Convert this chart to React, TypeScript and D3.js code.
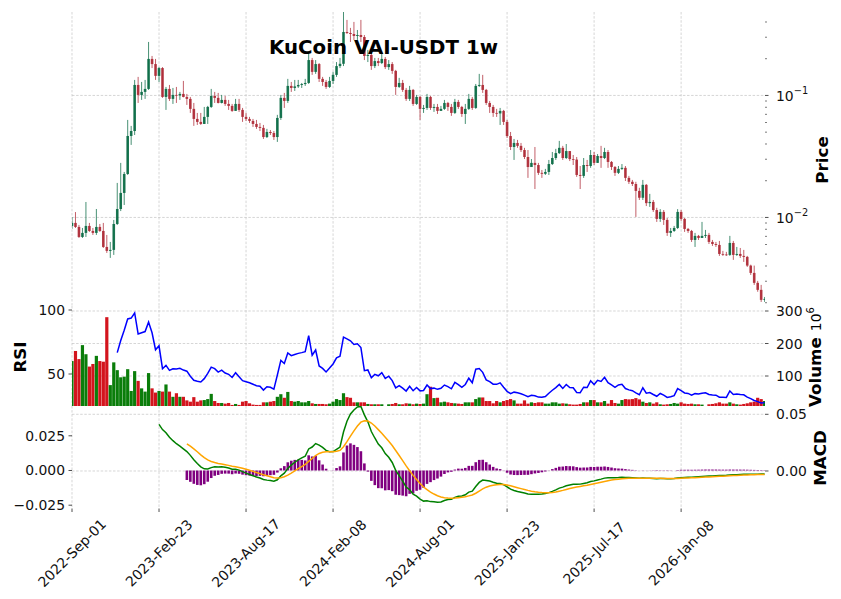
import React from 'react';
import * as d3 from 'd3';

const title = 'KuCoin VAI-USDT 1w';
const dateLabels = ['2022-Sep-01', '2023-Feb-23', '2023-Aug-17', '2024-Feb-08', '2024-Aug-01', '2025-Jan-23', '2025-Jul-17', '2026-Jan-08'];
const labelEvery = 25;

// weekly candles, open of each week = previous close
const firstOpen = 0.00852;
const closes = [
  0.00902, 0.00836, 0.00692, 0.00747, 0.00852, 0.00775, 0.00747, 0.00836, 0.00775, 0.00573,
  0.00532, 0.00542, 0.00884, 0.01173, 0.01588, 0.02271, 0.04653, 0.05111, 0.1219, 0.1010,
  0.1069, 0.1131, 0.1992, 0.1808, 0.1447, 0.1677, 0.0972, 0.1131, 0.0937, 0.1010,
  0.1000, 0.1029, 0.0972, 0.0937, 0.0776, 0.0642, 0.0607, 0.0584, 0.0667, 0.0805,
  0.0991, 0.0955, 0.0868, 0.0919, 0.0852, 0.0821, 0.0747, 0.0852, 0.0761, 0.0667,
  0.0642, 0.0618, 0.0584, 0.0552, 0.0542, 0.0456, 0.0502, 0.0492, 0.0456, 0.0654,
  0.0955, 0.0902, 0.1197, 0.1152, 0.1186, 0.1219, 0.1240, 0.1266, 0.1950, 0.1560,
  0.1808, 0.1367, 0.1290, 0.1174, 0.1315, 0.1474, 0.1741, 0.1817, 0.3313, 0.3251,
  0.3189, 0.3072, 0.3130, 0.3013, 0.2107, 0.2148, 0.1741, 0.1913, 0.1843, 0.1992,
  0.1708, 0.1808, 0.1589, 0.1174, 0.1266, 0.1110, 0.0937, 0.1110, 0.0852, 0.0972,
  0.0776, 0.0790, 0.0972, 0.0790, 0.0805, 0.0747, 0.0776, 0.0868, 0.0805, 0.0719,
  0.0885, 0.0805, 0.0705, 0.0776, 0.0937, 0.0790, 0.1197, 0.1219, 0.1110, 0.0868,
  0.0805, 0.0719, 0.0712, 0.0747, 0.0607, 0.0465, 0.0378, 0.0408, 0.0386, 0.0357,
  0.0313, 0.0259, 0.0280, 0.0269, 0.0232, 0.0228, 0.0236, 0.0274, 0.0307, 0.0337,
  0.0372, 0.0307, 0.0350, 0.0301, 0.0298, 0.0223, 0.0219, 0.0269, 0.0264, 0.0325,
  0.0280, 0.0319, 0.0307, 0.0344, 0.0285, 0.0259, 0.0232, 0.0250, 0.0255, 0.0211,
  0.0196, 0.0188, 0.0165, 0.0145, 0.0185, 0.0131, 0.0134, 0.0115, 0.00973, 0.0111,
  0.00954, 0.00747, 0.00775, 0.00820, 0.0111, 0.00973, 0.00805, 0.00775, 0.00654, 0.00706,
  0.00679, 0.00706, 0.00719, 0.00630, 0.00606, 0.00595, 0.00502, 0.00497, 0.00493, 0.00618,
  0.00493, 0.00502, 0.00484, 0.00475, 0.00403, 0.00351, 0.00291, 0.00255, 0.00211, 0.00215,
];
const highs = [
  0.01007, 0.01107, 0.00868, 0.00820, 0.01339, 0.00902, 0.00820, 0.01173, 0.00884, 0.00902,
  0.00719, 0.00630, 0.00954, 0.01918, 0.0280, 0.0236, 0.0630, 0.05626, 0.1340, 0.1419,
  0.1290, 0.1340, 0.2745, 0.2107, 0.1992, 0.1708, 0.1708, 0.1174, 0.1219, 0.1152,
  0.1174, 0.1069, 0.1315, 0.1029, 0.0972, 0.0868, 0.0719, 0.0719, 0.0805, 0.0821,
  0.1131, 0.1069, 0.1049, 0.1010, 0.0991, 0.0919, 0.0852, 0.0937, 0.0937, 0.0790,
  0.0719, 0.0667, 0.0642, 0.0630, 0.0595, 0.0573, 0.0532, 0.0521, 0.0511, 0.0693,
  0.1010, 0.1049, 0.1367, 0.1290, 0.1340, 0.1340, 0.1266, 0.1367, 0.2273, 0.2030,
  0.1950, 0.1843, 0.1419, 0.1340, 0.1419, 0.1560, 0.1878, 0.2030, 0.4925, 0.4160,
  0.3578, 0.4006, 0.3440, 0.4160, 0.3130, 0.2360, 0.2273, 0.2030, 0.2030, 0.2273,
  0.2067, 0.1950, 0.1878, 0.1620, 0.1393, 0.1340, 0.1152, 0.1197, 0.1130, 0.1010,
  0.0991, 0.0836, 0.1029, 0.0991, 0.0852, 0.0852, 0.0821, 0.0919, 0.0885, 0.0852,
  0.0937, 0.0919, 0.0821, 0.0852, 0.1029, 0.0972, 0.1242, 0.1502, 0.1474, 0.1131,
  0.0902, 0.0836, 0.0776, 0.0790, 0.0761, 0.0630, 0.0502, 0.0440, 0.0432, 0.0408,
  0.0372, 0.0357, 0.0301, 0.0378, 0.0280, 0.0245, 0.0250, 0.0296, 0.0344, 0.0365,
  0.0424, 0.0386, 0.0400, 0.0350, 0.0325, 0.0313, 0.0264, 0.0307, 0.0296, 0.0357,
  0.0344, 0.0331, 0.0386, 0.0372, 0.0357, 0.0290, 0.0264, 0.0264, 0.0274, 0.0264,
  0.0219, 0.0203, 0.0196, 0.0175, 0.0203, 0.0188, 0.0156, 0.0139, 0.0120, 0.0117,
  0.0115, 0.00990, 0.00820, 0.00852, 0.0117, 0.0115, 0.00990, 0.00820, 0.00790, 0.00747,
  0.00719, 0.00919, 0.00790, 0.00747, 0.00654, 0.00630, 0.00642, 0.00532, 0.00522, 0.00706,
  0.00642, 0.00573, 0.00562, 0.00542, 0.00484, 0.00410, 0.00403, 0.00302, 0.00280, 0.00223,
];
const lows = [
  0.00805, 0.0082, 0.00679, 0.00679, 0.00692, 0.00761, 0.00719, 0.00719, 0.00761, 0.00562,
  0.00512, 0.00466, 0.00493, 0.00868, 0.01128, 0.01265, 0.0223, 0.03931, 0.0474, 0.0868,
  0.0919, 0.0937, 0.111, 0.1677, 0.134, 0.129, 0.0955, 0.0761, 0.0902, 0.0852,
  0.0868, 0.0919, 0.0964, 0.0836, 0.0719, 0.0563, 0.0573, 0.0573, 0.0584, 0.0584,
  0.079, 0.0868, 0.086, 0.086, 0.0821, 0.0761, 0.0733, 0.0747, 0.0733, 0.0607,
  0.0618, 0.0595, 0.0552, 0.0532, 0.0511, 0.044, 0.0448, 0.0474, 0.0432, 0.0416,
  0.063, 0.079, 0.0868, 0.1069, 0.1089, 0.1152, 0.1152, 0.1197, 0.1242, 0.1474,
  0.1502, 0.129, 0.1197, 0.1131, 0.1152, 0.1242, 0.1419, 0.1677, 0.1741, 0.3189,
  0.2745, 0.285, 0.285, 0.2745, 0.195, 0.1878, 0.162, 0.1677, 0.1741, 0.1808,
  0.1646, 0.162, 0.1502, 0.101, 0.1152, 0.1069, 0.0902, 0.0902, 0.0821, 0.0836,
  0.063, 0.0719, 0.0761, 0.0761, 0.0733, 0.0705, 0.0747, 0.0761, 0.0747, 0.068,
  0.0705, 0.0776, 0.0667, 0.0584, 0.0761, 0.0761, 0.0776, 0.1174, 0.1049, 0.0836,
  0.0719, 0.0667, 0.0667, 0.0573, 0.0573, 0.0448, 0.0357, 0.0296, 0.0372, 0.0344,
  0.0301, 0.0211, 0.0264, 0.0171, 0.0223, 0.0211, 0.0223, 0.0223, 0.0269, 0.0296,
  0.0331, 0.0296, 0.0301, 0.029, 0.0269, 0.0215, 0.0171, 0.0211, 0.0236, 0.0255,
  0.0269, 0.028, 0.0255, 0.0301, 0.0255, 0.0245, 0.0219, 0.0227, 0.0245, 0.0199,
  0.0188, 0.0181, 0.0101, 0.0139, 0.0139, 0.0124, 0.0122, 0.0111, 0.00919, 0.00919,
  0.00868, 0.00706, 0.00692, 0.00761, 0.00805, 0.00936, 0.00761, 0.00747, 0.0063, 0.00573,
  0.00654, 0.00679, 0.00679, 0.00606, 0.00584, 0.00573, 0.00484, 0.00484, 0.00484, 0.00484,
  0.00449, 0.00484, 0.00466, 0.00432, 0.00393, 0.00338, 0.0028, 0.00246, 0.00203, 0.00203,
];
// volume in millions
const volumes = [
  146, 177, 152, 195, 167, 129, 137, 162, 146, 144,
  281, 72, 142, 118, 96, 98, 121, 54, 115, 85,
  62, 52, 109, 62, 49, 54, 52, 74, 52, 36,
  47, 36, 36, 25, 21, 35, 21, 25, 26, 29,
  45, 23, 17, 17, 15, 17, 11, 14, 11, 21,
  23, 16, 12, 11, 11, 19, 19, 21, 23, 36,
  44, 33, 51, 23, 21, 23, 19, 19, 23, 16,
  14, 14, 14, 13, 15, 21, 29, 26, 47, 35,
  33, 19, 19, 19, 19, 14, 13, 13, 13, 13,
  0, 13, 14, 17, 13, 13, 16, 15, 13, 15,
  14, 15, 44, 67, 32, 33, 19, 21, 19, 17,
  16, 15, 14, 19, 19, 19, 29, 34, 34, 23,
  23, 16, 23, 19, 23, 26, 29, 25, 15, 15,
  25, 15, 19, 17, 19, 19, 15, 15, 19, 19,
  15, 16, 15, 13, 12, 12, 14, 19, 19, 26,
  26, 19, 19, 23, 15, 26, 17, 15, 26, 29,
  28, 29, 32, 28, 21, 17, 19, 15, 19, 13,
  12, 13, 14, 17, 15, 19, 15, 14, 15, 13,
  13, 12, 0, 13, 14, 16, 19, 15, 15, 19,
  15, 13, 12, 14, 16, 19, 21, 33, 29, 23,
];

const rsiPeriod = 14;
const macdFast = 12;
const macdSlow = 26;
const macdSignal = 9;

// Wilder RSI: ewm(alpha=1/period, adjust=False) of gains / losses, first diff taken as 0
function wilderRsi(values: number[], period: number) {
  const a = 1 / period;
  let up = 0;
  let down = 0;
  return values.map((v, i) => {
    const d = i === 0 ? 0 : v - values[i - 1];
    const g = d > 0 ? d : 0;
    const l = d < 0 ? -d : 0;
    if (i === 0) {
      up = g;
      down = l;
    } else {
      up = a * g + (1 - a) * up;
      down = a * l + (1 - a) * down;
    }
    if (i < period - 1) return NaN;
    return 100 - 100 / (1 + up / down);
  });
}

// ewm(span, adjust=False) over the whole series
function ewm(values: number[], span: number) {
  const a = 2 / (span + 1);
  let m = values[0];
  return values.map((v, i) => {
    m = i === 0 ? v : a * v + (1 - a) * m;
    return m;
  });
}

const FONT = 'DejaVu Sans, Verdana, sans-serif';
const UP = '#0b6b45';
const DOWN = '#ae2a36';
const GRID = '#c4c4c4';

const left = 72;
const right = 765;
const priceTop = 12;
const priceBottom = 306;
const volBottom = 406;
const macdBottom = 508.5;

const App: React.FC = () => {
  const n = closes.length;
  const opens = closes.map((c, i) => (i === 0 ? firstOpen : closes[i - 1]));
  const rsi = wilderRsi(closes, rsiPeriod);
  const fast = ewm(closes, macdFast);
  const slow = ewm(closes, macdSlow);
  const macdAll = closes.map((_, i) => fast[i] - slow[i]);
  const signalAll = ewm(macdAll, macdSignal);
  const macdStart = macdSlow - 1;
  const signalStart = macdStart + macdSignal - 1;
  const macd = macdAll.map((v, i) => (i >= macdStart ? v : NaN));
  const signal = signalAll.map((v, i) => (i >= signalStart ? v : NaN));
  const hist = macd.map((m, i) => m - signal[i]);

  const x = d3.scaleLinear().domain([0, n - 0.9]).range([left, right]);
  const yPrice = d3.scaleLog().domain([0.00188, 0.483]).range([priceBottom, priceTop]);
  const yVol = d3.scaleLinear().domain([7.7, 315.4]).range([volBottom, priceBottom]);
  const yRsi = d3.scaleLinear().domain([25, 103.125]).range([volBottom, priceBottom]);
  // histogram on the left axis, macd / signal lines on the right axis
  const yHist = d3.scaleLinear().domain([-0.02738, 0.04647]).range([macdBottom, volBottom]);
  const yLines = d3.scaleLinear().domain([-0.03307, 0.05732]).range([macdBottom, volBottom]);

  const idx = d3.range(n);
  const rsiLine = d3.line<number>().defined((i) => !Number.isNaN(rsi[i])).x((i) => x(i)).y((i) => yRsi(rsi[i]));
  const macdLine = d3.line<number>().defined((i) => !Number.isNaN(macd[i])).x((i) => x(i)).y((i) => yLines(macd[i]));
  const signalLine = d3.line<number>().defined((i) => !Number.isNaN(signal[i])).x((i) => x(i)).y((i) => yLines(signal[i]));

  const labelIdx = dateLabels.map((_, k) => k * labelEvery);
  const minorTicks: number[] = [];
  for (let e = -3; e <= -1; e++) {
    for (let m = 2; m <= 9; m++) {
      const v = m * Math.pow(10, e);
      const [lo, hi] = yPrice.domain();
      if (v >= lo && v <= hi) minorTicks.push(v);
    }
  }
  const majorTicks = [0.01, 0.1];

  const gridV = (top: number, bottom: number) =>
    labelIdx.map((i) => (
      <line key={`gv${top}-${i}`} x1={x(i)} x2={x(i)} y1={top} y2={bottom} stroke={GRID} strokeWidth={0.7} strokeDasharray="2.5 1.6" />
    ));
  const gridH = (y: number, key: string) => (
    <line key={key} x1={left} x2={right} y1={y} y2={y} stroke={GRID} strokeWidth={0.7} strokeDasharray="2.5 1.6" />
  );

  const bodyW = 2.6;
  const volW = 3.2;

  return (
    <div style={{ position: 'absolute', left: 0, top: 0 }}>
      <svg width={841} height={599} style={{ display: 'block', background: '#fff' }} fontFamily={FONT}>
        <defs>
          <clipPath id="cp-price"><rect x={left} y={priceTop} width={right - left} height={priceBottom - priceTop} /></clipPath>
          <clipPath id="cp-vol"><rect x={left} y={priceBottom} width={right - left} height={volBottom - priceBottom} /></clipPath>
          <clipPath id="cp-macd"><rect x={left} y={volBottom} width={right - left} height={macdBottom - volBottom} /></clipPath>
        </defs>

        {/* grids */}
        {gridV(priceTop, priceBottom)}
        {majorTicks.map((v) => gridH(yPrice(v), `gp${v}`))}
        {gridV(priceBottom, volBottom)}
        {[100, 200, 300].map((v) => gridH(yVol(v), `gvol${v}`))}
        {gridV(volBottom, macdBottom)}
        {[0, 0.05].map((v) => gridH(yLines(v), `gm${v}`))}

        {/* candles */}
        <g clipPath="url(#cp-price)">
          {idx.map((i) => {
            const up = closes[i] >= opens[i];
            const col = up ? UP : DOWN;
            const yTop = yPrice(Math.max(opens[i], closes[i]));
            const yBot = yPrice(Math.min(opens[i], closes[i]));
            return (
              <g key={`c${i}`}>
                <line x1={x(i)} x2={x(i)} y1={yPrice(highs[i])} y2={yPrice(lows[i])} stroke={col} strokeOpacity={0.75} strokeWidth={1} />
                <rect x={x(i) - bodyW / 2} y={yTop} width={bodyW} height={Math.max(0.8, yBot - yTop)} fill={col} fillOpacity={0.92} />
              </g>
            );
          })}
        </g>

        {/* volume + rsi */}
        <g clipPath="url(#cp-vol)">
          {idx.filter((i) => volumes[i] > 0).map((i) => (
            <rect key={`v${i}`} x={x(i) - volW / 2} y={yVol(volumes[i])} width={volW} height={volBottom - yVol(volumes[i]) + 2}
              fill={closes[i] >= opens[i] ? '#0a7d0a' : '#d3141d'} />
          ))}
          <path d={rsiLine(idx) || ''} fill="none" stroke="#0000ff" strokeWidth={1.5} />
        </g>

        {/* macd */}
        <g clipPath="url(#cp-macd)">
          {idx.filter((i) => !Number.isNaN(hist[i])).map((i) => {
            const y0 = yHist(0);
            const y1 = yHist(hist[i]);
            return <rect key={`h${i}`} x={x(i) - bodyW / 2} y={Math.min(y0, y1)} width={bodyW} height={Math.abs(y1 - y0)} fill="#800080" />;
          })}
          <path d={macdLine(idx) || ''} fill="none" stroke="#008000" strokeWidth={1.5} />
          <path d={signalLine(idx) || ''} fill="none" stroke="#ffa500" strokeWidth={1.5} />
        </g>

        {/* price right axis */}
        {minorTicks.map((v) => (
          <line key={`mt${v}`} x1={right} x2={right + 2} y1={yPrice(v)} y2={yPrice(v)} stroke="#222" strokeWidth={0.6} />
        ))}
        {majorTicks.map((v) => (
          <g key={`pt${v}`}>
            <line x1={right} x2={right + 3.5} y1={yPrice(v)} y2={yPrice(v)} stroke="#222" strokeWidth={0.8} />
            <text x={right + 11} y={yPrice(v) + 5.5} fontSize={13.9} fill="#111">
              10<tspan dy={-6.5} fontSize={9.8}>{`\u2212${Math.round(-Math.log10(v))}`}</tspan>
            </text>
          </g>
        ))}

        {/* volume right axis */}
        {[100, 200, 300].map((v) => (
          <g key={`vt${v}`}>
            <line x1={right} x2={right + 3.5} y1={yVol(v)} y2={yVol(v)} stroke="#222" strokeWidth={0.8} />
            <text x={right + 11} y={yVol(v) + 5} fontSize={13.9} fill="#111">{v}</text>
          </g>
        ))}
        {/* rsi left axis */}
        {[50, 100].map((v) => (
          <g key={`rt${v}`}>
            <line x1={left - 3.5} x2={left} y1={yRsi(v)} y2={yRsi(v)} stroke="#222" strokeWidth={0.8} />
            <text x={left - 7} y={yRsi(v) + 5} fontSize={13.9} textAnchor="end" fill="#111">{v}</text>
          </g>
        ))}
        {/* macd panel axes */}
        {[-0.025, 0, 0.025].map((v) => (
          <g key={`ml${v}`}>
            <line x1={left - 3.5} x2={left} y1={yHist(v)} y2={yHist(v)} stroke="#222" strokeWidth={0.8} />
            <text x={left - 7} y={yHist(v) + 5} fontSize={13.9} textAnchor="end" fill="#111">
              {v < 0 ? `\u2212${Math.abs(v).toFixed(3)}` : v.toFixed(3)}
            </text>
          </g>
        ))}
        {[0, 0.05].map((v) => (
          <g key={`mr${v}`}>
            <line x1={right} x2={right + 3.5} y1={yLines(v)} y2={yLines(v)} stroke="#222" strokeWidth={0.8} />
            <text x={right + 11} y={yLines(v) + 5} fontSize={13.9} fill="#111">{v.toFixed(2)}</text>
          </g>
        ))}

        {/* x axis */}
        {labelIdx.map((i, k) => (
          <g key={`xt${i}`}>
            <line x1={x(i)} x2={x(i)} y1={macdBottom} y2={macdBottom + 3.5} stroke="#222" strokeWidth={0.8} />
            <text transform={`translate(${x(i)},553) rotate(-45)`} textAnchor="middle" dy="0.35em" fontSize={13.9} fill="#111">
              {dateLabels[k]}
            </text>
          </g>
        ))}

        {/* labels */}
        <text x={383.5} y={53.5} textAnchor="middle" fontSize={19.8} fontWeight="bold">{title}</text>
        <text transform="translate(822,160) rotate(-90)" textAnchor="middle" dy="0.35em" fontSize={16.7} fontWeight="bold">Price</text>
        <text transform="translate(20,357) rotate(-90)" textAnchor="middle" dy="0.35em" fontSize={16.7} fontWeight="bold">RSI</text>
        <text transform="translate(815,357) rotate(-90)" textAnchor="middle" dy="0.35em" fontSize={16.7}>
          <tspan fontWeight="bold">Volume</tspan>
          <tspan dx={6} fontSize={14}>10</tspan>
          <tspan dy={-7} fontSize={10}>6</tspan>
        </text>
        <text transform="translate(820,458) rotate(-90)" textAnchor="middle" dy="0.35em" fontSize={16.7} fontWeight="bold">MACD</text>
      </svg>
    </div>
  );
};

export default App;
